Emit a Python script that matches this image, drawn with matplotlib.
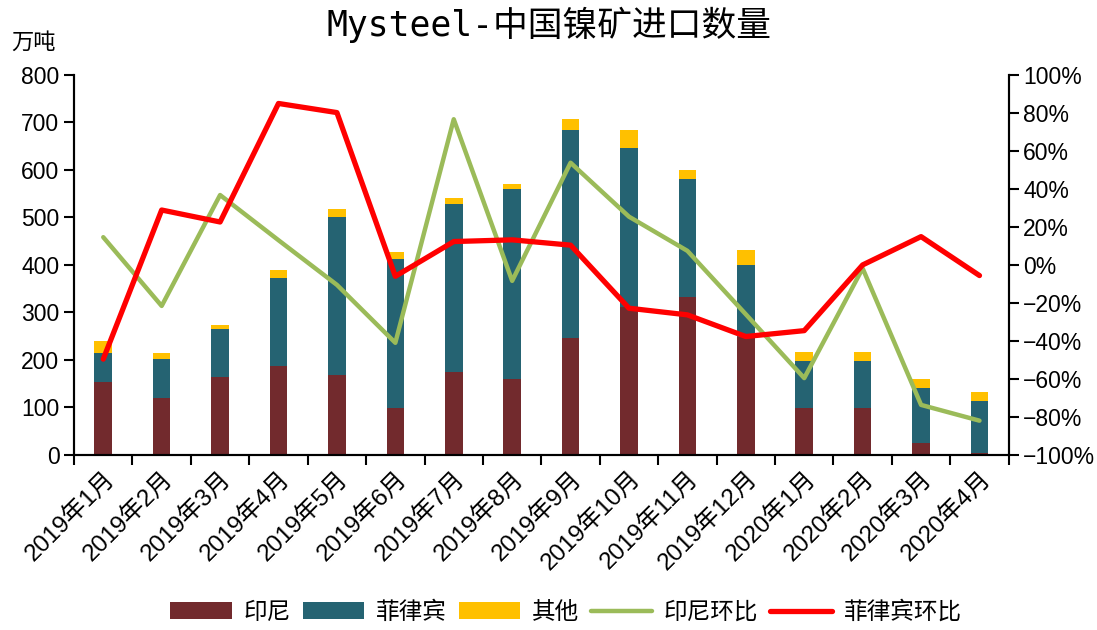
import numpy as np
import matplotlib
matplotlib.use("Agg")
import matplotlib.pyplot as plt
from matplotlib.ticker import FuncFormatter

plt.rcParams['font.family'] = ['Liberation Sans', 'Noto Sans CJK SC']
plt.rcParams['axes.unicode_minus'] = True

# 月份
months = ['2019年1月', '2019年2月', '2019年3月', '2019年4月', '2019年5月', '2019年6月',
          '2019年7月', '2019年8月', '2019年9月', '2019年10月', '2019年11月', '2019年12月',
          '2020年1月', '2020年2月', '2020年3月', '2020年4月']

# 进口量 (万吨)
indonesia = [153, 119, 164, 187, 168, 99, 175, 160, 247, 312, 333, 248, 98, 98, 25, 4]
philippines = [62, 83, 100, 186, 333, 313, 353, 399, 438, 335, 248, 151, 100, 100, 115, 109]
others = [24, 13, 9, 17, 16, 15, 13, 12, 23, 37, 18, 32, 18, 18, 20, 20]

# 环比 (%)
indonesia_mom = [14.6, -21.6, 36.8, 13.0, -10.5, -41.0, 76.7, -8.4, 53.8, 25.4, 7.4, -26.0,
                 -59.6, -1.8, -73.7, -82.0]
philippines_mom = [-49.6, 28.9, 22.6, 85.0, 80.2, -6.0, 12.3, 13.2, 10.4, -22.8, -26.3, -37.7,
                   -34.6, 0.0, 14.9, -5.6]

c_brown = '#722A2D'
c_teal = '#256372'
c_yellow = '#FFC000'
c_green = '#9BBB59'
c_red = '#FF0000'

fig = plt.figure(figsize=(10.97, 6.3), dpi=100)
ax = fig.add_axes([0.0675, 0.278, 0.852, 0.603])
ax2 = ax.twinx()

x = np.arange(len(months))
w = 0.3
ind = np.array(indonesia)
phi = np.array(philippines)
oth = np.array(others)
b1 = ax.bar(x, ind, w, color=c_brown, label='印尼')
b2 = ax.bar(x, phi, w, bottom=ind, color=c_teal, label='菲律宾')
b3 = ax.bar(x, oth, w, bottom=ind + phi, color=c_yellow, label='其他')

l1, = ax2.plot(x, indonesia_mom, color=c_green, lw=3.2, label='印尼环比', solid_capstyle='round')
l2, = ax2.plot(x, philippines_mom, color=c_red, lw=3.8, label='菲律宾环比', solid_capstyle='round')

ax.set_xlim(-0.5, len(months) - 0.5)
ax.set_ylim(0, 800)
ax.set_yticks(range(0, 801, 100))
ax2.set_ylim(-100, 100)
ax2.set_yticks(range(-100, 101, 20))
ax2.yaxis.set_major_formatter(FuncFormatter(lambda v, p: f'{v:.0f}%'.replace('-', '\u2212')))

# 类别边界的刻度
ax.set_xticks(np.arange(-0.5, len(months), 1.0))
ax.set_xticklabels([])
ax.set_xticks(x, minor=True)
ax.set_xticklabels(months, minor=True, rotation=45, ha='right', va='top',
                   rotation_mode='anchor', fontsize=17.5)
ax.tick_params(axis='x', which='minor', length=0, pad=9)
ax.tick_params(axis='x', which='major', length=7, width=1.5, direction='out')
ax.tick_params(axis='y', labelsize=16.5, length=7, width=1.5, direction='out')
ax2.tick_params(axis='y', labelsize=16.5, length=7, width=1.5, direction='out')

for a in (ax, ax2):
    a.spines['top'].set_visible(False)
    for s in ('left', 'right', 'bottom'):
        a.spines[s].set_linewidth(1.5)

ax.text(-0.067, 1.055, '万吨', transform=ax.transAxes, fontsize=16,
        family=['Noto Sans CJK SC'], ha='left', va='bottom')

fig.suptitle('Mysteel-中国镍矿进口数量', x=0.50, y=0.99, va='top', fontsize=25,
             family=['DejaVu Sans Mono', 'Noto Sans CJK SC'])

fig.legend(handles=[b1, b2, b3, l1, l2], loc='center', bbox_to_anchor=(0.516, 0.028),
           ncol=5, frameon=False, handlelength=2.6, handletextpad=0.5,
           columnspacing=0.5, prop={'family': ['Noto Sans CJK SC'], 'size': 17})

fig.savefig('out.png', dpi=100)
